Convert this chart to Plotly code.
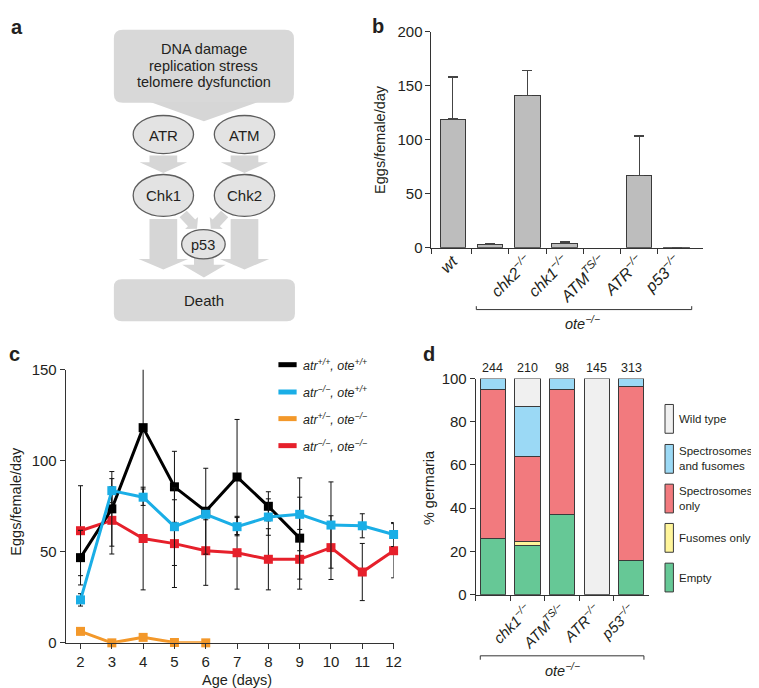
import math
import plotly.graph_objects as go

W, H = 759, 688
FONT = "Liberation Sans, Arial, sans-serif"
TXT = "#231f20"
AX = "#333333"


def X(px):
    return px / W


def Y(py):
    return 1 - py / H


# ---------------- data ----------------
# panel b
b_labels = ["<i>wt</i>", "", "<i>chk2<sup>−/−</sup></i>", "<i>chk1<sup>−/−</sup></i>",
            "<i>ATM<sup>TS/−</sup></i>", "<i>ATR<sup>−/−</sup></i>", "<i>p53<sup>−/−</sup></i>"]
b_values = [119, 3.5, 141, 4, None, 67, 0.4]
b_err = [39, 0.6, 23, 1.3, 0, 36.5, 0]

# panel c
c_days = [2, 3, 4, 5, 6, 7, 8, 9, 10, 11, 12]
c_black = [46.8, 73.6, 118.2, 85.7, 72.3, 91.1, 75.0, 57.5]
c_black_err = [15, 20.5, 39.8, 19.5, 23.6, 31.6, 8, 22.5]
c_cyan = [23.6, 83.6, 80.0, 63.8, 70.6, 63.8, 69.1, 70.6, 64.7, 64.3, 59.5]
c_cyan_err = [3.4, 6.6, 4.5, 21.3, 3, 5, 10, 20, 23.7, 6.6, 6.6]
c_orange = [6.3, 0.0, 3.0, 0.2, 0.0]
c_red = [61.6, 67.3, 57.3, 54.5, 50.6, 49.5, 45.9, 45.9, 52.3, 38.9, 50.6]
c_red_err = [24.7, 18.5, 28.2, 24.1, 19, 20, 16.8, 16.4, 17.5, 15.7, 14.9]
c_names = ["<i>atr<sup>+/+</sup>, ote<sup>+/+</sup></i>",
           "<i>atr<sup>−/−</sup>, ote<sup>+/+</sup></i>",
           "<i>atr<sup>+/−</sup>, ote<sup>−/−</sup></i>",
           "<i>atr<sup>−/−</sup>, ote<sup>−/−</sup></i>"]
c_colors = ["#000000", "#1aaee6", "#f3982a", "#e6202b"]

# panel d
d_labels = ["", "<i>chk1<sup>−/−</sup></i>", "<i>ATM<sup>TS/−</sup></i>",
            "<i>ATR<sup>−/−</sup></i>", "<i>p53<sup>−/−</sup></i>"]
d_counts = [244, 210, 98, 145, 313]
d_empty = [25.9, 22.8, 37.0, None, 15.9]
d_fusomes = [None, 2.0, None, None, None]
d_spectro = [68.9, 39.0, 58.0, None, 80.2]
d_specfus = [5.2, 23.3, 5.0, None, 3.9]
d_wild = [None, 12.9, None, 100, None]
d_names = ["Empty", "Fusomes only", "Spectrosomes<br>only", "Spectrosomes<br>and fusomes", "Wild type"]
d_colors = ["#66c896", "#fff59a", "#f27a7e", "#9bd9f5", "#f0f0f0"]

fig = go.Figure()

# ---------------- panel b ----------------
fig.add_trace(go.Bar(
    x=list(range(len(b_values))), y=b_values, width=0.68,
    marker=dict(color="#bdbdbd", line=dict(color="#3a3a3a", width=1)),
    error_y=dict(type="data", symmetric=False, array=b_err, arrayminus=[0] * len(b_err),
                 color="#444444", thickness=1.5, width=5),
    xaxis="x", yaxis="y", showlegend=False, hoverinfo="skip"))

# ---------------- panel c ----------------
series = [
    (c_red, c_red_err, c_colors[3]),
    (c_black, c_black_err, c_colors[0]),
    (c_cyan, c_cyan_err, c_colors[1]),
    (c_orange, None, c_colors[2]),
]
for vals, errs, col in series:
    tr = dict(x=c_days[:len(vals)], y=vals, mode="lines+markers",
              line=dict(color=col, width=3),
              marker=dict(symbol="square", size=9, color=col),
              xaxis="x2", yaxis="y2", showlegend=False, cliponaxis=False, hoverinfo="skip")
    if errs is not None:
        tr["error_y"] = dict(type="data", array=errs, color="#111111", thickness=1, width=2.5)
    fig.add_trace(go.Scatter(**tr))

# ---------------- panel d ----------------
for vals, name, col in zip([d_empty, d_fusomes, d_spectro, d_specfus, d_wild], d_names, d_colors):
    fig.add_trace(go.Bar(
        x=list(range(len(d_counts))), y=vals, width=0.73, name=name,
        marker=dict(color=col, line=dict(color="#3a3a3a", width=1)),
        xaxis="x3", yaxis="y3", showlegend=False, hoverinfo="skip"))

axis_common = dict(showline=True, linecolor=AX, linewidth=1, ticks="outside", ticklen=5,
                   tickcolor=AX, tickwidth=1, showgrid=False, zeroline=False,
                   tickfont=dict(family=FONT, size=15, color=TXT))
minor_common = dict(tickmode="array", ticks="outside", ticklen=5, tickcolor=AX, tickwidth=1, showgrid=False)

fig.update_layout(
    width=W, height=H, autosize=False,
    margin=dict(l=0, r=0, t=0, b=0),
    paper_bgcolor="white", plot_bgcolor="white",
    barmode="stack", font=dict(family=FONT, color=TXT),
    xaxis=dict(**{**axis_common, "ticks": "", "tickfont": dict(family=FONT, size=16, color=TXT)},
               domain=[X(428), X(702.3)], range=[-0.57, 6.706],
               tickmode="array", tickvals=list(range(7)), ticktext=b_labels, tickangle=-45,
               ticklabelstandoff=-3, anchor="y",
               minor=dict(**minor_common, tickvals=[-0.57, 0.5, 1.5, 2.5, 3.5, 4.5, 5.5])),
    yaxis=dict(**axis_common, domain=[Y(236.7), Y(15)], range=[0, 200],
               tickmode="array", tickvals=[0, 50, 100, 150, 200], anchor="x"),
    xaxis2=dict(**axis_common, domain=[X(58.3), X(389.7)], range=[1.526, 12],
                tickmode="array", tickvals=c_days, anchor="y2"),
    yaxis2=dict(**axis_common, domain=[Y(641.7), Y(361.7)], range=[0, 150],
                tickmode="array", tickvals=[0, 50, 100, 150], anchor="x2"),
    xaxis3=dict(**{**axis_common, "ticks": ""}, domain=[X(472.7), X(648.3)], range=[-0.5, 4.53],
                tickmode="array", tickvals=list(range(5)), ticktext=d_labels, tickangle=-45,
                ticklabelstandoff=0, anchor="y3",
                minor=dict(**minor_common, tickvals=[-0.5, 0.5, 1.5, 2.5, 3.5])),
    yaxis3=dict(**axis_common, domain=[Y(592.3), Y(370.7)], range=[0, 100],
                tickmode="array", tickvals=[0, 20, 40, 60, 80, 100], anchor="x3"),
)

shapes = []
annots = []


def txt(x, y, s, size=14, xanchor="center", yanchor="middle", bold=False, angle=0, align="center"):
    annots.append(dict(x=X(x), y=Y(y), xref="paper", yref="paper", text=("<b>%s</b>" % s) if bold else s,
                       showarrow=False, xanchor=xanchor, yanchor=yanchor, textangle=angle, align=align,
                       borderpad=0, font=dict(family=FONT, size=size, color=TXT)))


def poly(pts, fill):
    p = "M " + " L ".join("%.5f,%.5f" % (X(a), Y(b)) for a, b in pts) + " Z"
    shapes.append(dict(type="path", path=p, xref="paper", yref="paper", fillcolor=fill,
                       line=dict(width=0), layer="above"))


def rrect(x0, y0, x1, y1, r, fill):
    P = lambda a, b: "%.5f,%.5f" % (X(a), Y(b))
    p = ("M %s L %s Q %s %s L %s Q %s %s L %s Q %s %s L %s Q %s %s Z" % (
        P(x0 + r, y0), P(x1 - r, y0), P(x1, y0), P(x1, y0 + r), P(x1, y1 - r), P(x1, y1), P(x1 - r, y1),
        P(x0 + r, y1), P(x0, y1), P(x0, y1 - r), P(x0, y0 + r), P(x0, y0), P(x0 + r, y0)))
    shapes.append(dict(type="path", path=p, xref="paper", yref="paper", fillcolor=fill,
                       line=dict(width=0), layer="above"))


def ellipse(cx, cy, rx, ry):
    shapes.append(dict(type="circle", xref="paper", yref="paper", x0=X(cx - rx), x1=X(cx + rx),
                       y0=Y(cy + ry), y1=Y(cy - ry), fillcolor="#e3e3e3",
                       line=dict(color="#5e5e5e", width=1.3), layer="above"))


def line(x0, y0, x1, y1, color=AX, width=1):
    shapes.append(dict(type="line", xref="paper", yref="paper", x0=X(x0), y0=Y(y0), x1=X(x1), y1=Y(y1),
                       line=dict(color=color, width=width), layer="above"))


def rect(x0, y0, x1, y1, fill, lc="#3a3a3a"):
    shapes.append(dict(type="rect", xref="paper", yref="paper", x0=X(x0), y0=Y(y1), x1=X(x1), y1=Y(y0),
                       fillcolor=fill, line=dict(color=lc, width=1), layer="above"))


def down_arrow(cx, ytop, yhead, yapex, shaft_half, head_half, fill):
    poly([(cx - shaft_half, ytop), (cx + shaft_half, ytop), (cx + shaft_half, yhead),
          (cx + head_half, yhead), (cx, yapex), (cx - head_half, yhead), (cx - shaft_half, yhead)], fill)


def diag_arrow(x0, y0, x1, y1, shaft_half, head_half, head_len, fill):
    L = math.hypot(x1 - x0, y1 - y0)
    ux, uy = (x1 - x0) / L, (y1 - y0) / L
    nx, ny = -uy, ux
    hb = (x1 - ux * head_len, y1 - uy * head_len)
    pts = [(x0 + nx * shaft_half, y0 + ny * shaft_half), (hb[0] + nx * shaft_half, hb[1] + ny * shaft_half),
           (hb[0] + nx * head_half, hb[1] + ny * head_half), (x1, y1),
           (hb[0] - nx * head_half, hb[1] - ny * head_half), (hb[0] - nx * shaft_half, hb[1] - ny * shaft_half),
           (x0 - nx * shaft_half, y0 - ny * shaft_half)]
    poly(pts, fill)


# ---------------- panel a diagram ----------------
BOX = "#d8d8d8"
ARR = "#d6d6d6"
rrect(107, 13, 289, 88, 9, BOX)
poly([(143, 87), (253, 87), (198, 107)], ARR)
down_arrow(157, 142, 149, 160, 14, 24, ARR)
down_arrow(239, 142, 149, 160, 14, 24, ARR)
down_arrow(157, 207, 248, 259, 14, 25, ARR)
down_arrow(239, 207, 248, 259, 14, 25, ARR)
down_arrow(198, 247, 254, 267, 10, 22, ARR)
diag_arrow(177, 202, 191, 217, 5, 9, 8, ARR)
diag_arrow(219, 202, 205, 217, 5, 9, 8, ARR)
rrect(107, 269, 290, 312, 8, BOX)
ellipse(157, 120.5, 30.5, 19.5)
ellipse(239, 120.5, 30.5, 19.5)
ellipse(157, 183, 30.5, 21.5)
ellipse(239, 183, 30.5, 21.5)
ellipse(197.5, 233, 22, 15)
txt(198, 33, "DNA damage", 14.5)
txt(198, 50, "replication stress", 14.5)
txt(198, 67, "telomere dysfunction", 14.5)
txt(157, 121, "ATR", 15)
txt(239, 121, "ATM", 15)
txt(157, 183, "Chk1", 15)
txt(239, 183, "Chk2", 15)
txt(197.5, 234, "p53", 14.5)
txt(198, 291, "Death", 15)

# panel letters
txt(9, 10, "a", 20, bold=True)
txt(374, 9, "b", 20, bold=True)
txt(6.5, 346, "c", 20, bold=True)
txt(425, 346, "d", 20, bold=True)

# panel b extras
txt(376, 126, "Eggs/female/day", 14.5, angle=-90)
line(473.3, 300, 691, 300)
line(473.3, 300, 473.3, 296.5)
line(691, 300, 691, 296.5)
txt(581, 314, "<i>ote<sup>−/−</sup></i>", 14.5)

# panel c extras
txt(8, 496, "Eggs/female/day", 14.5, angle=-90)
txt(231.5, 680, "Age (days)", 14.5)
leg_y = [356.5, 384.5, 411.8, 439.5]
for yy, name, col in zip(leg_y, c_names, c_colors):
    line(273.3, yy, 291.7, yy, color=col, width=5)
    txt(297.5, yy, name, 12.5, xanchor="left")

# panel d extras
txt(425.5, 483, "% germaria", 14.5, angle=-90)
for i, n in enumerate(d_counts):
    annots.append(dict(x=i, y=100, xref="x3", yref="y3", text=str(n), showarrow=False,
                       yanchor="bottom", yshift=2, font=dict(family=FONT, size=12.5, color=TXT)))
line(477.3, 655, 642.7, 655)
line(477.3, 655, 477.3, 659)
line(642.7, 655, 642.7, 659)
txt(560.5, 670, "<i>ote<sup>−/−</sup></i>", 14.5)
leg_boxes = [(397.3, "Wild type", d_colors[4]), (438.3, "Spectrosomes<br>and fusomes", d_colors[3]),
             (479.0, "Spectrosomes<br>only", d_colors[2]), (519.3, "Fusomes only", d_colors[1]),
             (560.0, "Empty", d_colors[0])]
for y0, name, col in leg_boxes:
    rect(664, y0, 672.5, y0 + 29.5, col)
    txt(677.5, y0 + 14.8, name, 11.5, xanchor="left", align="left")

fig.update_layout(shapes=shapes, annotations=annots)
fig.write_html("out.html")
